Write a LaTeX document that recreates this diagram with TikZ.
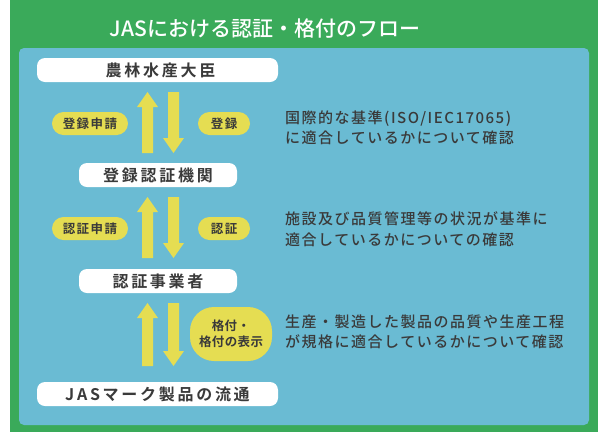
\documentclass[tikz,border=0pt]{standalone}
\usepackage{fontspec}
\setmainfont{Noto Sans CJK JP}[BoldFont={Noto Sans CJK JP Bold}]
\newfontfamily\jpmed{Noto Sans CJK JP Medium}
\usetikzlibrary{calc}
\definecolor{jgreen}{RGB}{58,170,90}
\definecolor{jblue}{RGB}{106,187,211}
\definecolor{jyellow}{RGB}{229,221,82}
\definecolor{jtext}{RGB}{58,58,58}
\newcommand\blockpair[2]{%
  % up arrow (left)
  \fill[jyellow] (142,#2) -- (142,#1+15) -- (137,#1+15) -- (147.5,#1) -- (158,#1+15) -- (153,#1+15) -- (153,#2) -- cycle;
  % down arrow (right)
  \fill[jyellow] (168,#1) -- (168,#2-15) -- (163,#2-15) -- (173.5,#2) -- (184,#2-15) -- (179,#2-15) -- (179,#1) -- cycle;
}
\begin{document}
\begin{tikzpicture}[x=1pt,y=-1pt,
  wbox/.style={fill=white, rounded corners=8pt, minimum height=24pt, inner sep=0pt,
    text=jtext, font=\fontsize{16}{18}\selectfont\bfseries\addfontfeatures{LetterSpace=17}},
  pill/.style={fill=jyellow, rounded corners=11.5pt, minimum width=76pt, minimum height=23pt, inner sep=0pt,
    text=jtext, font=\fontsize{12.5}{14}\selectfont\bfseries\addfontfeatures{LetterSpace=12}},
  note/.style={anchor=west, align=left, inner sep=0pt, text=jtext,
    font=\fontsize{15}{20.5}\jpmed\addfontfeatures{LetterSpace=10}}]
\useasboundingbox (0,0) rectangle (598,432);
\fill[white] (0,0) rectangle (598,432);
\fill[jgreen] (10,0) rectangle (598,432);
\fill[jblue, rounded corners=5pt] (19,48) rectangle (589,425);
\node[text=white, font=\fontsize{21}{26}\jpmed] (title) at (265,29) {JASにおける認証・格付のフロー};

\node[wbox, minimum width=241pt] (minister) at (157.5,70) {\hspace{6pt}農林水産大臣};
\node[wbox, minimum width=158pt] (body) at (158,175) {登録認証機関};
\node[wbox, minimum width=158pt] (operator) at (158,281) {認証事業者};
\node[wbox, minimum width=241pt] (market) at (157.5,394) {JASマーク製品の流通};

\blockpair{92}{153}
\blockpair{197}{258}
\blockpair{303}{366}

\node[pill] (p1) at (90,123.5) {登録申請};
\node[pill, minimum width=52pt] (p2) at (224,123.5) {登録};
\node[pill] (p3) at (90,228.5) {認証申請};
\node[pill, minimum width=52pt] (p4) at (224,228.5) {認証};
\node[pill, minimum width=82pt, minimum height=54pt, rounded corners=24pt, align=center,
  font=\fontsize{12.5}{16}\selectfont\bfseries\addfontfeatures{LetterSpace=3}] (p5) at (231,334) {格付・\\格付の表示};

\node[note] (n1) at (285,128) {国際的な基準(ISO/IEC17065)\\に適合しているかについて確認};
\node[note] (n2) at (285,229) {施設及び品質管理等の状況が基準に\\適合しているかについての確認};
\node[note] (n3) at (285,332) {生産・製造した製品の品質や生産工程\\が規格に適合しているかについて確認};
\end{tikzpicture}
\end{document}
